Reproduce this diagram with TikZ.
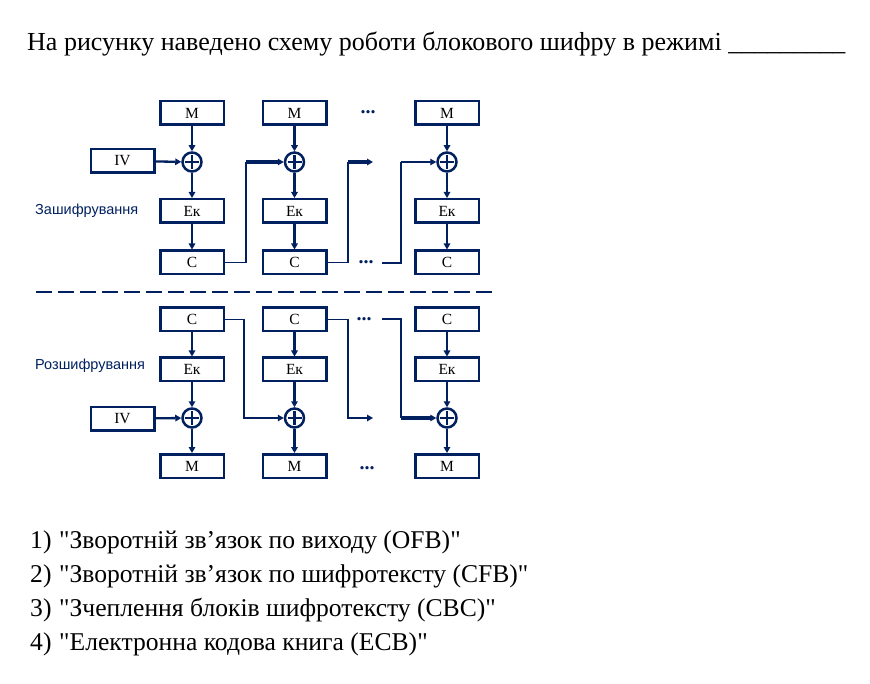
\documentclass[tikz,border=0pt]{standalone}
\usepackage{fontspec}
\setmainfont{Liberation Serif}[Ligatures=TeXOff]
\newfontfamily\labfont{Liberation Sans}
\usetikzlibrary{arrows.meta}
\definecolor{navy}{RGB}{0,32,96}
\begin{document}
\begin{tikzpicture}[x=1pt,y=-1pt,
  blk/.style={draw=navy,line width=2.5pt,minimum width=63.5pt,minimum height=23.5pt,inner sep=0pt,font=\fontsize{15.5}{15.5}\selectfont},
  xr/.style={draw=navy,line width=2.5pt,circle,minimum size=19pt,inner sep=0pt,
    path picture={\draw[navy,line width=2.5pt] ([xshift=-7pt]path picture bounding box.center) -- ([xshift=7pt]path picture bounding box.center)
      ([yshift=-7pt]path picture bounding box.center) -- ([yshift=7pt]path picture bounding box.center);}},
  ar/.style={-{Triangle[length=6pt,width=6.5pt]}},
  wk/.style={line width=1.3pt,draw=navy},
  st/.style={line width=2.3pt,draw=navy},
  hv/.style={line width=3.3pt,draw=navy},
  dots/.style={inner sep=0pt,font=\fontsize{20}{20}\selectfont\bfseries,text=navy},
  lab/.style={anchor=west,inner sep=0pt,text=navy,font=\labfont\fontsize{14.5}{14.5}\selectfont},
  opt/.style={anchor=base west,inner sep=0pt,font=\fontsize{25.6}{25.6}\selectfont}
]
\useasboundingbox[fill=white] (0,0) rectangle (870,684);

% title
\node[opt,font=\fontsize{26}{26}\selectfont] (title) at (27,51) {На рисунку наведено схему роботи блокового шифру в режимі \_\_\_\_\_\_\_\_\_};

% ---------- encryption ----------
\node[blk] (tm1) at (192,113) {М};
\node[blk] (tm2) at (294.5,113) {М};
\node[blk] (tm3) at (447,113) {М};
\node[dots] (tdm) at (368,112) {...};
\node[blk] (tiv) at (122.5,161) {IV};
\node[xr] (tx1) at (192,162) {};
\node[xr] (tx2) at (294.5,162) {};
\node[xr] (tx3) at (447,162) {};
\node[blk] (te1) at (192,211) {Eк};
\node[blk] (te2) at (294.5,211) {Eк};
\node[blk] (te3) at (447,211) {Eк};
\node[blk] (tc1) at (192,262.5) {C};
\node[blk] (tc2) at (294.5,262.5) {C};
\node[blk] (tc3) at (447,262.5) {C};
\node[dots] (tdc) at (366,262) {...};
\node[lab] (enc) at (35,211) {Зашифрування};

\draw[st,ar] (tm1) -- (tx1);
\draw[st,ar] (tx1) -- (te1);
\draw[st,ar] (te1) -- (tc1);
\draw[st,ar] (tiv) -- (tx1);
\draw[st,ar] (tm2) -- (tx2);
\draw[st,ar] (tx2) -- (te2);
\draw[st,ar] (te2) -- (tc2);
\draw[wk,ar] (tm3) -- (tx3);
\draw[wk,ar] (tx3) -- (te3);
\draw[st,ar] (te3) -- (tc3);

\coordinate (ta) at (246,162);
\coordinate (tb) at (348,162);
\coordinate (tbe) at (373,162);
\coordinate (tcs) at (382,263);
\coordinate (tc) at (401,162);
\draw[wk] (tc1.east) -| (ta);
\draw[hv,ar] (ta) -- (tx2.west);
\draw[wk] (tc2.east) -| (tb);
\draw[hv,ar] (tb) -- (tbe);
\draw[wk] (tcs) -| (tc);
\draw[wk,ar] (tc) -- (tx3.west);

% dashed separator
\coordinate (da) at (36,292);
\coordinate (db) at (494,292);
\draw[navy,line width=2.7pt,dash pattern=on 16pt off 6pt] (da) -- (db);

% ---------- decryption ----------
\node[blk] (bc1) at (192,319.5) {C};
\node[blk] (bc2) at (294.5,319.5) {C};
\node[blk] (bc3) at (447,319.5) {C};
\node[dots] (bdc) at (364,319) {...};
\node[blk] (be1) at (192,369.5) {Eк};
\node[blk] (be2) at (294.5,369.5) {Eк};
\node[blk] (be3) at (447,369.5) {Eк};
\node[blk] (biv) at (122.5,418.5) {IV};
\node[xr] (bx1) at (192,418) {};
\node[xr] (bx2) at (294.5,418) {};
\node[xr] (bx3) at (447,418) {};
\node[blk] (bm1) at (192,466) {М};
\node[blk] (bm2) at (294.5,466) {М};
\node[blk] (bm3) at (447,466) {М};
\node[dots] (bdm) at (367,468) {...};
\node[lab] (dec) at (35,366) {Розшифрування};

\draw[st,ar] (bc1) -- (be1);
\draw[st,ar] (be1) -- (bx1);
\draw[st,ar] (bx1) -- (bm1);
\draw[st,ar] (biv) -- (bx1);
\draw[hv,ar] (bc2) -- (be2);
\draw[st,ar] (be2) -- (bx2);
\draw[st,ar] (bx2) -- (bm2);
\draw[st,ar] (bc3) -- (be3);
\draw[wk,ar] (be3) -- (bx3);
\draw[wk,ar] (bx3) -- (bm3);

\coordinate (ba) at (244,418);
\coordinate (bb) at (348,418);
\coordinate (bbe) at (373,418);
\coordinate (bcs) at (382,319);
\coordinate (bc) at (401,418);
\draw[wk,ar] (bc1.east) -| (ba) -- (bx2.west);
\draw[wk,ar] (bc2.east) -| (bb) -- (bbe);
\draw[wk] (bcs) -| (bc);
\draw[hv,ar] (bc) -- (bx3.west);

% ---------- options ----------
\node[opt] (o1) at (30,548) {\makebox[29pt][l]{1)}"Зворотній зв’язок по виходу (OFB)"};
\node[opt] (o2) at (30,582) {\makebox[29pt][l]{2)}"Зворотній зв’язок по шифротексту (CFB)"};
\node[opt] (o3) at (30,616) {\makebox[29pt][l]{3)}"Зчеплення блоків шифротексту (CBC)"};
\node[opt] (o4) at (30,650) {\makebox[29pt][l]{4)}"Електронна кодова книга (ECB)"};
\end{tikzpicture}
\end{document}
